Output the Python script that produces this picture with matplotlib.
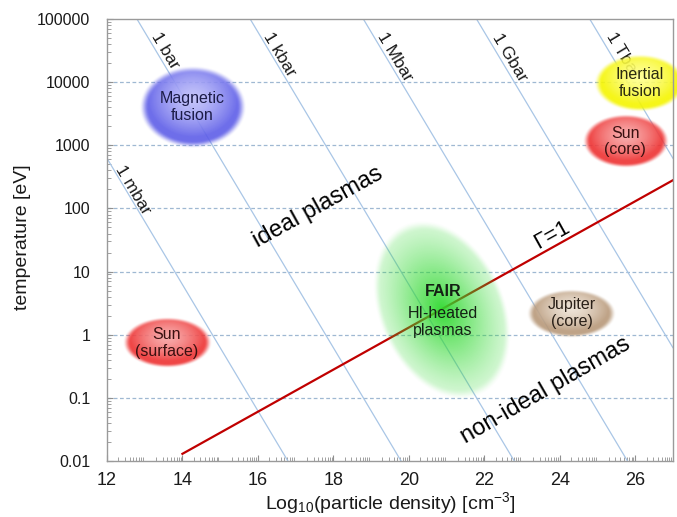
import numpy as np
import matplotlib
matplotlib.use("Agg")
import matplotlib.pyplot as plt
from matplotlib.colors import to_rgb

plt.rcParams['font.family'] = ['Liberation Sans', 'DejaVu Sans']
plt.rcParams['mathtext.fontset'] = 'custom'
plt.rcParams['mathtext.rm'] = 'Liberation Sans'
plt.rcParams['mathtext.it'] = 'Liberation Sans:italic'

# axis ranges
x_min, x_max = 12, 27
ytick_vals = [0.01, 0.1, 1, 10, 100, 1000, 10000, 100000]
ytick_labels = ['0.01', '0.1', '1', '10', '100', '1000', '10000', '100000']
xtick_vals = [12, 14, 16, 18, 20, 22, 24, 26]

# isobars: p = n k T  ->  log10(T[eV]) = log10(p[bar]) + 17.8 - log10(n)
isobar_p = [1e-3, 1, 1e3, 1e6, 1e9, 1e12]
isobar_names = ['1 mbar', '1 bar', '1 kbar', '1 Mbar', '1 Gbar', '1 Tbar']
isobar_label_x = [12.69, 13.54, 16.56, 19.63, 22.68, 25.68]
isobar_label_T = [195, 32000, 27000, 25000, 25000, 27000]
ideal_gas_const = 17.795

# Gamma = 1 line
gamma_x = [14, 27]
gamma_T = [0.013, 280]

# plasma regions: name, centre x, centre T, width (x units), height (decades)
region_names = ['Magnetic\nfusion', 'Inertial\nfusion', 'Sun\n(core)',
                'Sun\n(surface)', 'Jupiter\n(core)']
region_x = [14.27, 26.13, 25.74, 13.58, 24.32]
region_T = [4000, 9800, 1150, 0.74, 2.2]
region_w = [2.78, 2.4, 2.25, 2.31, 2.33]
region_h = [1.28, 0.9, 0.84, 0.79, 0.76]
region_edge = ['#5e5ee8', '#f5f500', '#ee3232', '#ee3232', '#b8997a']
region_centre = ['#bcbcfa', '#ffff8c', '#f7a0a0', '#f7a0a0', '#ece0d2']
region_text = ['#1c1c48', '#2a2a10', '#3a1010', '#3a1010', '#2a2018']

fair_x, fair_T = 20.88, 2.45
fair_w, fair_h = 3.29, 2.92   # along the tilted axes
fair_angle = 23.6

PX_X = 37.73   # px per x unit
PX_Y = 63.14   # px per decade


def smoothstep(e0, e1, v):
    t = np.clip((v - e0) / (e1 - e0), 0, 1)
    return t * t * (3 - 2 * t)


def draw_blob(ax, cx, cy, w, h, edge, centre, angle=0.0, kind='rim',
              alpha_max=0.9, zorder=3):
    a = w / 2 * PX_X
    b = h / 2 * PX_Y
    R = max(a, b) * 1.08
    g = np.linspace(-R, R, 300)
    X, Y = np.meshgrid(g, g)
    th = np.radians(angle)
    u = (X * np.cos(th) + Y * np.sin(th)) / a
    v = (-X * np.sin(th) + Y * np.cos(th)) / b
    r = np.sqrt(u ** 2 + v ** 2)
    ec = np.array(to_rgb(edge))
    cc = np.array(to_rgb(centre))
    img = np.zeros(X.shape + (4,))
    if kind == 'rim':
        rh = np.sqrt(u ** 2 + ((v - 0.2) / 1.1) ** 2)
        t = np.clip(rh / 0.85, 0, 1) ** 1.5
        img[..., :3] = cc + (ec - cc) * t[..., None]
        img[..., 3] = alpha_max * (1 - smoothstep(0.84, 1.02, r))
    else:
        img[..., :3] = ec
        img[..., 3] = alpha_max * (0.2 + 0.8 * np.clip(1 - r, 0, 1) ** 1.2) \
            * (1 - smoothstep(0.9, 1.02, r))
    ext = [cx - R / PX_X, cx + R / PX_X, cy - R / PX_Y, cy + R / PX_Y]
    ax.imshow(img, extent=ext, origin='lower', aspect='auto',
              interpolation='bilinear', zorder=zorder, clip_on=False)


fig = plt.figure(figsize=(6.77, 5.17), dpi=100)
ax = fig.add_axes([0.158, 0.1083, 0.836, 0.8549])

# dashed horizontal grid
for yv in ytick_vals[1:-1]:
    ax.axhline(np.log10(yv), color='#9fb8d2', lw=0.9, ls=(0, (3, 2)), zorder=1)

# isobars
xs = np.array([x_min, x_max], dtype=float)
for p in isobar_p:
    ax.plot(xs, np.log10(p) + ideal_gas_const - xs, color='#a9c6e6', lw=0.9,
            zorder=2)
for name, lx, lt in zip(isobar_names, isobar_label_x, isobar_label_T):
    ax.text(lx, np.log10(lt), name, rotation=-59, ha='center', va='center',
            fontsize=12.5, color='#1a1a1a', rotation_mode='anchor', zorder=2)

# Gamma = 1
ax.plot(gamma_x, np.log10(gamma_T), color='#c00000', lw=1.6, zorder=2.5)

# regions
for i in range(len(region_names)):
    draw_blob(ax, region_x[i], np.log10(region_T[i]), region_w[i],
              region_h[i], region_edge[i], region_centre[i])
    ax.text(region_x[i], np.log10(region_T[i]), region_names[i],
            ha='center', va='center', fontsize=11.5, color=region_text[i],
            linespacing=1.15, zorder=5)

draw_blob(ax, fair_x, np.log10(fair_T), fair_w, fair_h, '#2ed82e', '#2ed82e',
          angle=fair_angle, kind='radial', alpha_max=0.95)
ax.text(20.9, 0.68, 'FAIR', ha='center', va='center', fontsize=11.5,
        fontweight='bold', color='#142014', zorder=5)
ax.text(20.9, 0.20, 'HI-heated\nplasmas', ha='center', va='center',
        fontsize=11.5, color='#142014', linespacing=1.15, zorder=5)

# region names
ax.text(17.59, 2.02, 'ideal plasmas', rotation=29, ha='center', va='center',
        fontsize=17, rotation_mode='anchor', zorder=5)
ax.text(23.63, -0.88, 'non-ideal plasmas', rotation=30, ha='center',
        va='center', fontsize=17, rotation_mode='anchor', zorder=5)
ax.text(23.79, 1.58, 'Γ=1', rotation=29, ha='center', va='center',
        fontsize=16, rotation_mode='anchor', zorder=5)

# axes
ax.set_xlim(x_min, x_max)
ax.set_ylim(np.log10(ytick_vals[0]), np.log10(ytick_vals[-1]))
ax.set_yticks(np.log10(ytick_vals))
ax.set_yticklabels(ytick_labels)
ax.set_xticks(xtick_vals)
ymin_t = [np.log10(k * 10.0 ** n) for n in range(-2, 5) for k in range(2, 10)]
xmin_t = [n + np.log10(k) for n in range(12, 27) for k in range(2, 10)]
ax.set_yticks(ymin_t, minor=True)
ax.set_xticks(xmin_t, minor=True)
ax.tick_params(axis='both', which='both', direction='in', color='#909090')
ax.tick_params(axis='both', which='major', length=4, width=0.8)
ax.tick_params(axis='both', which='minor', length=3, width=0.6)
ax.tick_params(axis='y', which='major', labelsize=11.5, pad=12,
               labelcolor='#1a1a1a')
ax.tick_params(axis='x', which='major', labelsize=13, pad=8,
               labelcolor='#1a1a1a')
for s in ax.spines.values():
    s.set_color('#9a9a9a')
    s.set_linewidth(1.0)
    s.set_zorder(6)

ax.set_ylabel('temperature [eV]', fontsize=14, color='#1a1a1a')
ax.yaxis.set_label_coords(-0.134, 0.507)
ax.set_xlabel(r'Log$_\mathregular{10}$(particle density) [cm$^\mathregular{-3}$]',
              fontsize=14, color='#1a1a1a')
ax.xaxis.set_label_coords(0.5, -0.066)

fig.savefig('out.png', dpi=100)
